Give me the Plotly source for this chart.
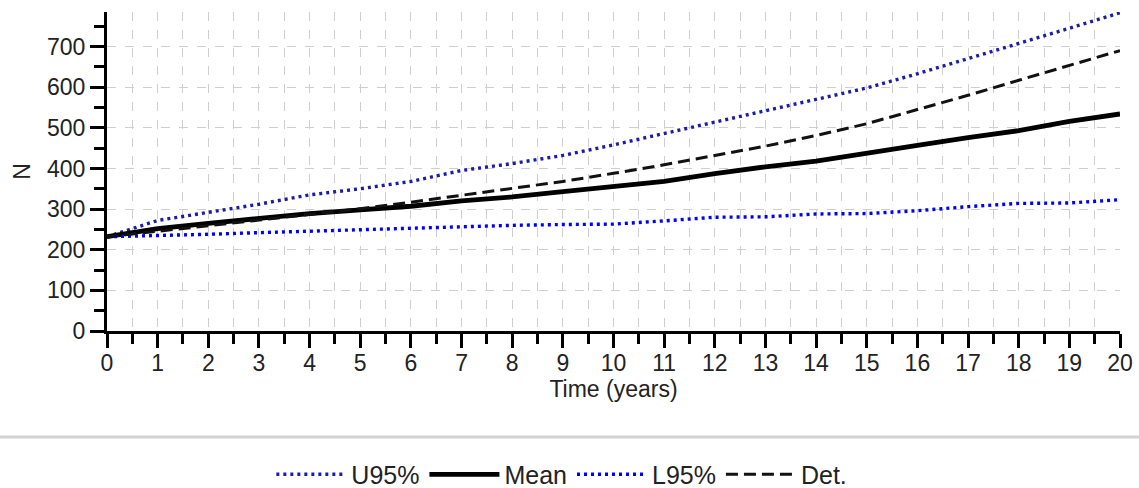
import plotly.graph_objects as go

# Population projection: stochastic mean, 95% bounds and deterministic run
years = list(range(0, 21))
u95 = [232, 272, 292, 312, 335, 350, 368, 395, 412, 432, 458,
       486, 515, 543, 570, 598, 633, 670, 706, 745, 783]
mean = [232, 252, 265, 277, 289, 298, 307, 320, 330, 343, 356,
        368, 387, 404, 418, 436, 457, 476, 493, 516, 534]
l95 = [232, 234, 238, 242, 246, 250, 252, 256, 260, 262, 263,
       271, 280, 281, 288, 289, 296, 306, 314, 315, 323]
det = [232, 245, 259, 273, 287, 301, 317, 334, 350, 368, 388,
       409, 432, 455, 481, 510, 545, 580, 617, 653, 690]

font = "Liberation Sans, Arial, sans-serif"
grid = "#cfcfcf"
tick_size = 23

fig = go.Figure()
fig.add_trace(go.Scatter(x=years, y=u95, name="U95%", mode="lines",
                         line=dict(color="#1c1ca8", width=3.4, dash="3px,4px")))
fig.add_trace(go.Scatter(x=years, y=mean, name="Mean", mode="lines",
                         line=dict(color="#000000", width=4.8)))
fig.add_trace(go.Scatter(x=years, y=l95, name="L95%", mode="lines",
                         line=dict(color="#0000ff", width=3.4, dash="3px,4px")))
fig.add_trace(go.Scatter(x=years, y=det, name="Det.", mode="lines",
                         line=dict(color="#111111", width=3, dash="12px,6px")))

fig.update_layout(
    width=1139, height=488,
    margin=dict(l=107, r=19, t=12, b=157, autoexpand=False),
    plot_bgcolor="white", paper_bgcolor="white",
    font=dict(family=font, size=20, color="#222222"),
    showlegend=True,
    legend=dict(orientation="h", x=0.449, y=-0.45, xanchor="center",
                yanchor="middle", font=dict(size=25), traceorder="normal",
                itemwidth=70, bgcolor="rgba(0,0,0,0)"),
    xaxis=dict(
        range=[0, 20], dtick=1, tick0=0, automargin=False,
        showline=True, linecolor="black", linewidth=3,
        ticks="outside", ticklen=14, tickwidth=3, tickcolor="black",
        ticklabelstandoff=-5,
        showgrid=True, gridcolor=grid, griddash="dash", gridwidth=1,
        zeroline=False,
        minor=dict(dtick=0.5, ticks="outside", ticklen=10, tickwidth=3,
                   tickcolor="black", showgrid=True, gridcolor=grid,
                   griddash="dash", gridwidth=1),
        title=dict(text="Time (years)", standoff=6, font=dict(size=tick_size)),
        tickfont=dict(size=tick_size),
    ),
    yaxis=dict(
        range=[0, 785], dtick=100, tick0=0, automargin=False,
        showline=True, linecolor="black", linewidth=3,
        ticks="outside", ticklen=14, tickwidth=3, tickcolor="black",
        showgrid=True, gridcolor=grid, griddash="dash", gridwidth=1,
        zeroline=False,
        minor=dict(dtick=50, ticks="outside", ticklen=10, tickwidth=3,
                   tickcolor="black", showgrid=False),
        title=dict(text="N", standoff=10, font=dict(size=tick_size)),
        tickfont=dict(size=tick_size),
    ),
    shapes=[dict(type="line", xref="paper", yref="paper",
                 x0=-0.2, x1=1.2, y0=-0.332, y1=-0.332,
                 line=dict(color="#d2d2d2", width=3))],
)

fig.write_html("out.html")
